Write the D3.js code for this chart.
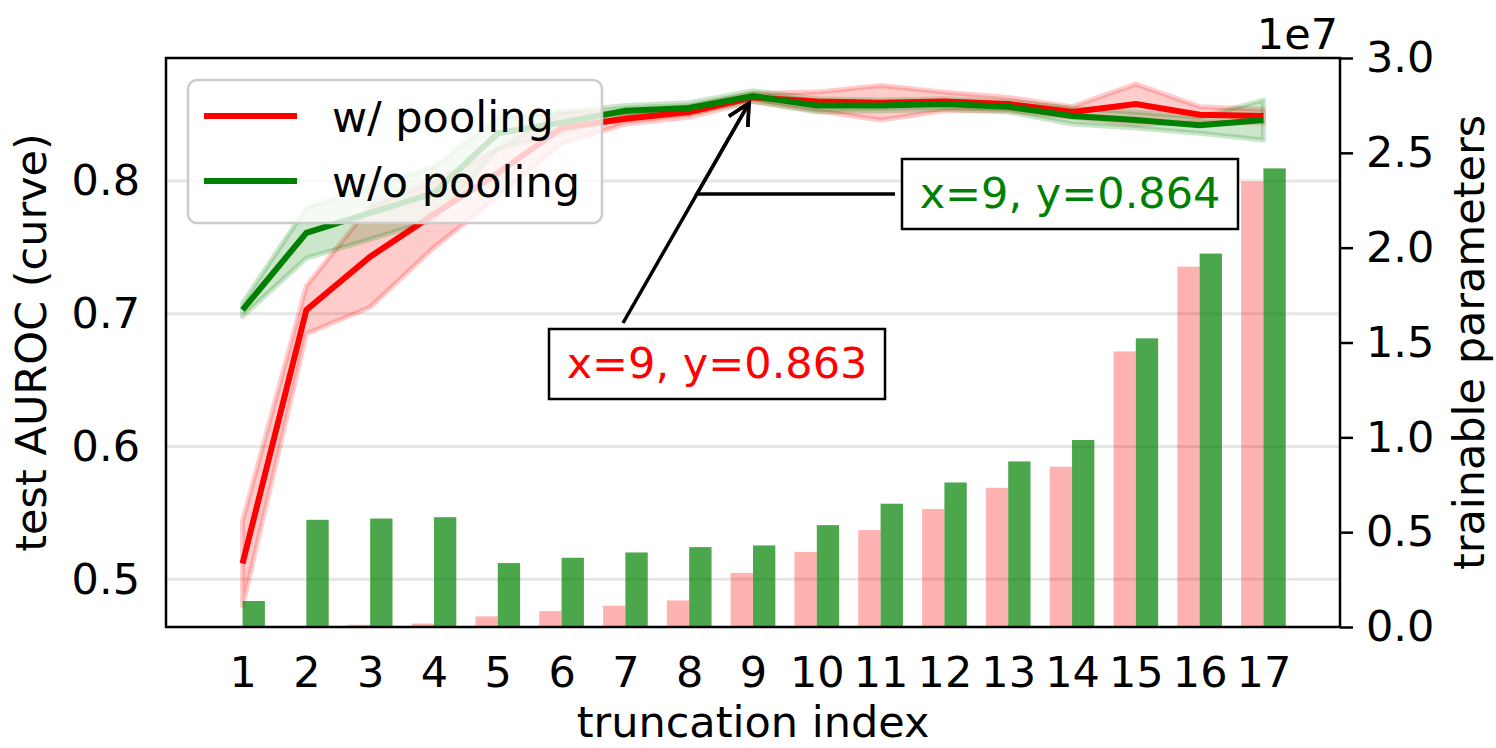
<!DOCTYPE html>
<html>
<head>
<meta charset="utf-8">
<script src="https://cdnjs.cloudflare.com/ajax/libs/d3/7.8.5/d3.min.js"></script>
<style>
  body { margin: 0; background: #fff; }
  svg { display: block; font-family: "DejaVu Sans", sans-serif; }
</style>
</head>
<body>
<svg></svg>
<script>
// truncation index on x
const truncationIndex = [1, 2, 3, 4, 5, 6, 7, 8, 9, 10, 11, 12, 13, 14, 15, 16, 17];

// test AUROC, mean and std
const aurocPool    = [0.512, 0.703, 0.743, 0.775, 0.806, 0.840, 0.847, 0.852, 0.863, 0.860, 0.859, 0.860, 0.858, 0.852, 0.858, 0.850, 0.849];
const aurocPoolStd = [0.032, 0.018, 0.038, 0.025, 0.018, 0.012, 0.004, 0.004, 0.003, 0.007, 0.013, 0.007, 0.005, 0.004, 0.015, 0.006, 0.005];
const aurocNoPool    = [0.703, 0.761, 0.776, 0.791, 0.836, 0.844, 0.853, 0.855, 0.864, 0.857, 0.857, 0.858, 0.856, 0.849, 0.846, 0.842, 0.846];
const aurocNoPoolStd = [0.005, 0.019, 0.020, 0.020, 0.012, 0.008, 0.004, 0.004, 0.004, 0.005, 0.004, 0.004, 0.004, 0.006, 0.006, 0.006, 0.015];

// trainable parameters
const paramsPool   = [0, 0, 0.012e7, 0.018e7, 0.056e7, 0.084e7, 0.112e7, 0.140e7, 0.285e7, 0.396e7, 0.511e7, 0.622e7, 0.734e7, 0.845e7, 1.453e7, 1.900e7, 2.348e7];
const paramsNoPool = [0.137e7, 0.565e7, 0.572e7, 0.579e7, 0.337e7, 0.365e7, 0.393e7, 0.421e7, 0.430e7, 0.537e7, 0.650e7, 0.762e7, 0.873e7, 0.986e7, 1.522e7, 1.969e7, 2.418e7];

const aurocTicks = [0.5, 0.6, 0.7, 0.8];
const paramTicks = [0, 0.5e7, 1e7, 1.5e7, 2e7, 2.5e7, 3e7];
const seriesNames = ['w/ pooling', 'w/o pooling'];

window.onload = () => {
  const W = 1496, H = 748;
  const left = 166, right = 1340, top = 58, bottom = 627;
  const fs = 43;
  const red = '#ff0000', green = '#008000';

  const svg = d3.select('svg').attr('width', W).attr('height', H);

  const x = d3.scaleLinear().domain([-0.2, 18.2]).range([left, right]);
  const yL = d3.scaleLinear().domain([0.4641, 0.8927]).range([bottom, top]);
  const yR = d3.scaleLinear().domain([0, 3e7]).range([bottom, top]);

  // grid
  svg.append('g').selectAll('line')
    .data(aurocTicks).enter().append('line')
    .attr('x1', left).attr('x2', right)
    .attr('y1', d => yL(d)).attr('y2', d => yL(d))
    .attr('stroke', '#e6e6e6').attr('stroke-width', 3);

  const rows = truncationIndex.map((t, i) => ({
    t, p: aurocPool[i], ps: aurocPoolStd[i], n: aurocNoPool[i], ns: aurocNoPoolStd[i]
  }));

  const band = (m, s) => d3.area().x(d => x(d.t)).y0(d => yL(d[m] - d[s])).y1(d => yL(d[m] + d[s]));
  const line = m => d3.line().x(d => x(d.t)).y(d => yL(d[m]));

  svg.append('path').datum(rows).attr('d', band('p', 'ps'))
    .attr('fill', red).attr('fill-opacity', 0.2)
    .attr('stroke', red).attr('stroke-opacity', 0.2).attr('stroke-width', 5).attr('stroke-linejoin', 'round');
  svg.append('path').datum(rows).attr('d', band('n', 'ns'))
    .attr('fill', green).attr('fill-opacity', 0.2)
    .attr('stroke', green).attr('stroke-opacity', 0.2).attr('stroke-width', 5).attr('stroke-linejoin', 'round');
  svg.append('path').datum(rows).attr('d', line('p'))
    .attr('fill', 'none').attr('stroke', red).attr('stroke-width', 6);
  svg.append('path').datum(rows).attr('d', line('n'))
    .attr('fill', 'none').attr('stroke', green).attr('stroke-width', 6);

  // legend
  const lg = svg.append('g');
  lg.append('rect').attr('x', 188).attr('y', 80).attr('width', 414).attr('height', 143).attr('rx', 9)
    .attr('fill', '#fff').attr('fill-opacity', 0.8).attr('stroke', '#cccccc').attr('stroke-width', 2.5);
  [red, green].forEach((c, i) => {
    const cy = 116 + i * 65;
    lg.append('line').attr('x1', 204).attr('x2', 297).attr('y1', cy).attr('y2', cy)
      .attr('stroke', c).attr('stroke-width', 6);
    lg.append('text').attr('x', 332).attr('y', cy + 16).attr('font-size', fs).text(seriesNames[i]);
  });

  // annotations
  const tipX = x(9), tipY = yL(0.864);
  const redBox = {cx: 717, cy: 364, w: 336, h: 70, label: 'x=9, y=' + aurocPool[8].toFixed(3), color: red};
  const greenBox = {cx: 1070, cy: 194, w: 336, h: 70, label: 'x=9, y=' + aurocNoPool[8].toFixed(3), color: green};

  const start = {x: redBox.cx - redBox.w / 2 + 74, y: redBox.cy - redBox.h / 2 - 6};
  const dx = tipX - start.x, dy = tipY - start.y, len = Math.hypot(dx, dy);
  const ux = dx / len, uy = dy / len;
  const tip = {x: tipX - 8 * ux, y: tipY - 8 * uy};
  const knee = {x: start.x + (tip.x - start.x) * (start.y - greenBox.cy) / (start.y - tip.y), y: greenBox.cy};

  const head = () => {
    const a = 0.47, l = 24;
    const ang = Math.atan2(uy, ux);
    const p1 = [tip.x - l * Math.cos(ang - a), tip.y - l * Math.sin(ang - a)];
    const p2 = [tip.x - l * Math.cos(ang + a), tip.y - l * Math.sin(ang + a)];
    return `M${p1[0]},${p1[1]}L${tip.x},${tip.y}L${p2[0]},${p2[1]}`;
  };

  const ag = svg.append('g').attr('fill', 'none').attr('stroke', '#000').attr('stroke-width', 3.5);
  ag.append('path').attr('d', `M${start.x},${start.y}L${tip.x},${tip.y}`);
  ag.append('path').attr('d', head());
  ag.append('path').attr('d', `M${greenBox.cx - greenBox.w / 2 - 7},${greenBox.cy}L${knee.x},${knee.y}L${tip.x},${tip.y}`);
  ag.append('path').attr('d', head());

  [redBox, greenBox].forEach(b => {
    svg.append('rect').attr('x', b.cx - b.w / 2).attr('y', b.cy - b.h / 2)
      .attr('width', b.w).attr('height', b.h)
      .attr('fill', '#fff').attr('stroke', '#000').attr('stroke-width', 2.5);
    svg.append('text').attr('x', b.cx).attr('y', b.cy + 14).attr('text-anchor', 'middle')
      .attr('font-size', fs).attr('fill', b.color).text(b.label);
  });

  // bars on the right axis
  const bw = x(0.35) - x(0);
  svg.append('g').selectAll('rect').data(truncationIndex).enter().append('rect')
    .attr('x', d => x(d) - bw).attr('width', bw)
    .attr('y', (d, i) => yR(paramsPool[i])).attr('height', (d, i) => yR(0) - yR(paramsPool[i]))
    .attr('fill', red).attr('fill-opacity', 0.3);
  svg.append('g').selectAll('rect').data(truncationIndex).enter().append('rect')
    .attr('x', d => x(d)).attr('width', bw)
    .attr('y', (d, i) => yR(paramsNoPool[i])).attr('height', (d, i) => yR(0) - yR(paramsNoPool[i]))
    .attr('fill', green).attr('fill-opacity', 0.7);

  // axes
  const gl = svg.append('g').attr('transform', `translate(${left},0)`)
    .call(d3.axisLeft(yL).tickValues(aurocTicks).tickSize(0).tickPadding(26).tickFormat(d3.format('.1f')));
  const gb = svg.append('g').attr('transform', `translate(0,${bottom})`)
    .call(d3.axisBottom(x).tickValues(truncationIndex).tickSize(0).tickPadding(29).tickFormat(d => d));
  const gr = svg.append('g').attr('transform', `translate(${right},0)`)
    .call(d3.axisRight(yR).tickValues(paramTicks).tickSize(13).tickPadding(13).tickFormat(d => (d / 1e7).toFixed(1)));

  [gl, gb, gr].forEach(g => {
    g.select('.domain').remove();
    g.selectAll('text').attr('font-size', fs).attr('font-family', '"DejaVu Sans", sans-serif').attr('fill', '#000');
    g.selectAll('line').attr('stroke', '#000').attr('stroke-width', 2.5);
  });

  // frame
  svg.append('rect').attr('x', left).attr('y', top).attr('width', right - left).attr('height', bottom - top)
    .attr('fill', 'none').attr('stroke', '#000').attr('stroke-width', 2.5);

  // labels
  svg.append('text').attr('x', 1338).attr('y', 49).attr('text-anchor', 'end').attr('font-size', fs).text('1e7');
  svg.append('text').attr('x', (left + right) / 2).attr('y', 737).attr('text-anchor', 'middle')
    .attr('font-size', fs).text('truncation index');
  svg.append('text').attr('transform', `translate(46,${(top + bottom) / 2}) rotate(-90)`)
    .attr('text-anchor', 'middle').attr('font-size', fs).text('test AUROC (curve)');
  svg.append('text').attr('transform', `translate(1484,${(top + bottom) / 2}) rotate(-90)`)
    .attr('text-anchor', 'middle').attr('font-size', fs).text('trainable parameters');
};
</script>
</body>
</html>
